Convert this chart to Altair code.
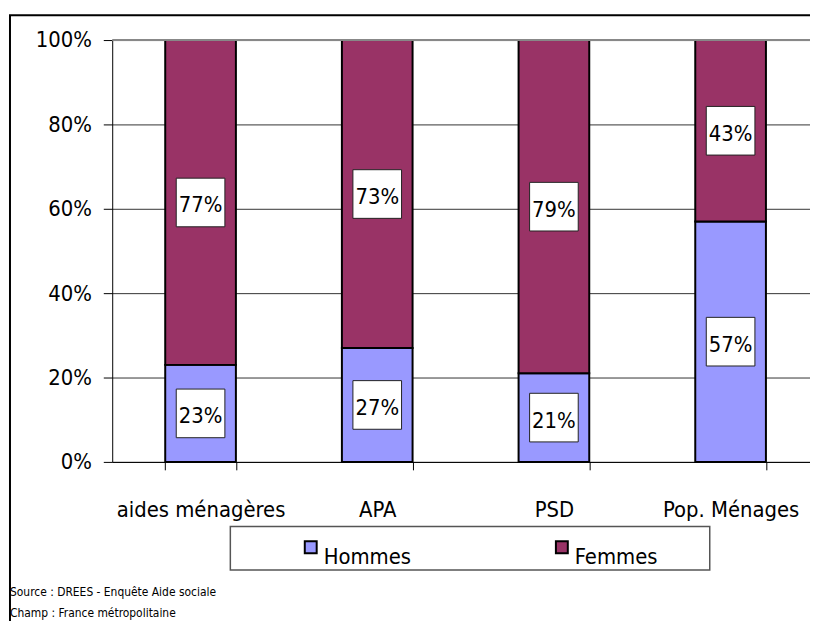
import altair as alt
import pandas as pd

categories = ["aides ménagères", "APA", "PSD", "Pop. Ménages"]
hommes = [0.23, 0.27, 0.21, 0.57]
femmes = [0.77, 0.73, 0.79, 0.43]
series = ["Hommes", "Femmes"]
colors = ["#9999FF", "#993366"]
y_ticks = [0, 0.2, 0.4, 0.6, 0.8, 1.0]
source_lines = ["Source : DREES - Enquête Aide sociale", "Champ : France métropolitaine"]

FONT = "Liberation Sans Narrow, DejaVu Sans Condensed, Arial Narrow, sans-serif"

rows = []
for c, h, f in zip(categories, hommes, femmes):
    rows.append({"cat": c, "serie": "Hommes", "val": h, "start": 0.0, "end": h,
                 "mid": h / 2, "ord": 0, "lab": f"{round(h*100)}%"})
    rows.append({"cat": c, "serie": "Femmes", "val": f, "start": h, "end": h + f,
                 "mid": h + f / 2, "ord": 1, "lab": f"{round(f*100)}%"})
df = pd.DataFrame(rows)

xscale = alt.Scale(domain=categories, range=[0, 712], paddingInner=0.6, paddingOuter=0.3)
yscale = alt.Scale(domain=[0, 1])

xenc = alt.X("cat:N", scale=xscale, sort=categories, title=None,
             axis=alt.Axis(labelAngle=0, labelFont=FONT, labelFontSize=22, labelColor="#000",
                           tickBand="extent", tickSize=8, tickColor="#000", domainColor="#000",
                           labelPadding=30, labelBaseline="top", grid=False))

base = alt.Chart(df)

bars = base.mark_bar(stroke="#000", strokeWidth=2).encode(
    x=xenc,
    y=alt.Y("start:Q", scale=yscale, title=None,
            axis=alt.Axis(values=y_ticks, format="%", labelFont=FONT, labelFontSize=22,
                          labelColor="#000", tickSize=9, tickColor="#000", domainColor="#000",
                          labelPadding=12, grid=True, gridColor="#333", gridWidth=1)),
    y2="end:Q",
    color=alt.Color("serie:N", scale=alt.Scale(domain=series, range=colors),
                    legend=alt.Legend(title=None, orient="none", legendX=189, legendY=500,
                                      direction="horizontal", columnPadding=140,
                                      symbolType="square", symbolSize=144,
                                      symbolStrokeColor="#000", symbolStrokeWidth=2,
                                      symbolOpacity=1, labelFont=FONT, labelFontSize=22,
                                      labelColor="#000", labelOffset=2, labelBaseline="top",
                                      padding=0)),
    order=alt.Order("ord:Q"),
)

top_line = alt.Chart(pd.DataFrame({"v": [1.0]})).mark_rule(color="#888", strokeWidth=2).encode(
    y=alt.Y("v:Q", scale=yscale)
)

boxes = base.mark_point(shape="square", size=2401, filled=True, fill="white", stroke="#222",
                        strokeWidth=1, opacity=1).encode(
    x=alt.X("cat:N", scale=xscale, sort=categories),
    y=alt.Y("mid:Q", scale=yscale),
)

labels = base.mark_text(font=FONT, fontSize=22, color="#000", dy=3).encode(
    x=alt.X("cat:N", scale=xscale, sort=categories),
    y=alt.Y("mid:Q", scale=yscale),
    text="lab:N",
)

one = pd.DataFrame({"k": [0]})
frame = alt.Chart(one).mark_rect(fill="transparent", stroke="#000", strokeWidth=2).encode(
    x=alt.value(-103), x2=alt.value(2000), y=alt.value(-25), y2=alt.value(2000)
)
legend_frame = alt.Chart(one).mark_rect(fill="white", stroke="#555", strokeWidth=1.5).encode(
    x=alt.value(119), x2=alt.value(602), y=alt.value(490), y2=alt.value(534)
)

src = alt.Chart(pd.DataFrame({"t": ["\n".join(source_lines)]})).mark_text(
    font=FONT, fontSize=12, color="#000", align="left", baseline="middle",
    lineBreak="\n", lineHeight=21
).encode(
    x=alt.value(-103),
    y=alt.value(556),
    text="t:N",
)

chart = alt.layer(frame, legend_frame, bars, top_line, boxes, labels, src).properties(
    width=703, height=425,
    autosize=alt.AutoSizeParams(type="none"),
    padding={"left": 105, "top": 30, "right": 0, "bottom": 158},
).configure_view(strokeWidth=0)

chart.save("out.html", embed_options={"renderer": "svg", "actions": False})
